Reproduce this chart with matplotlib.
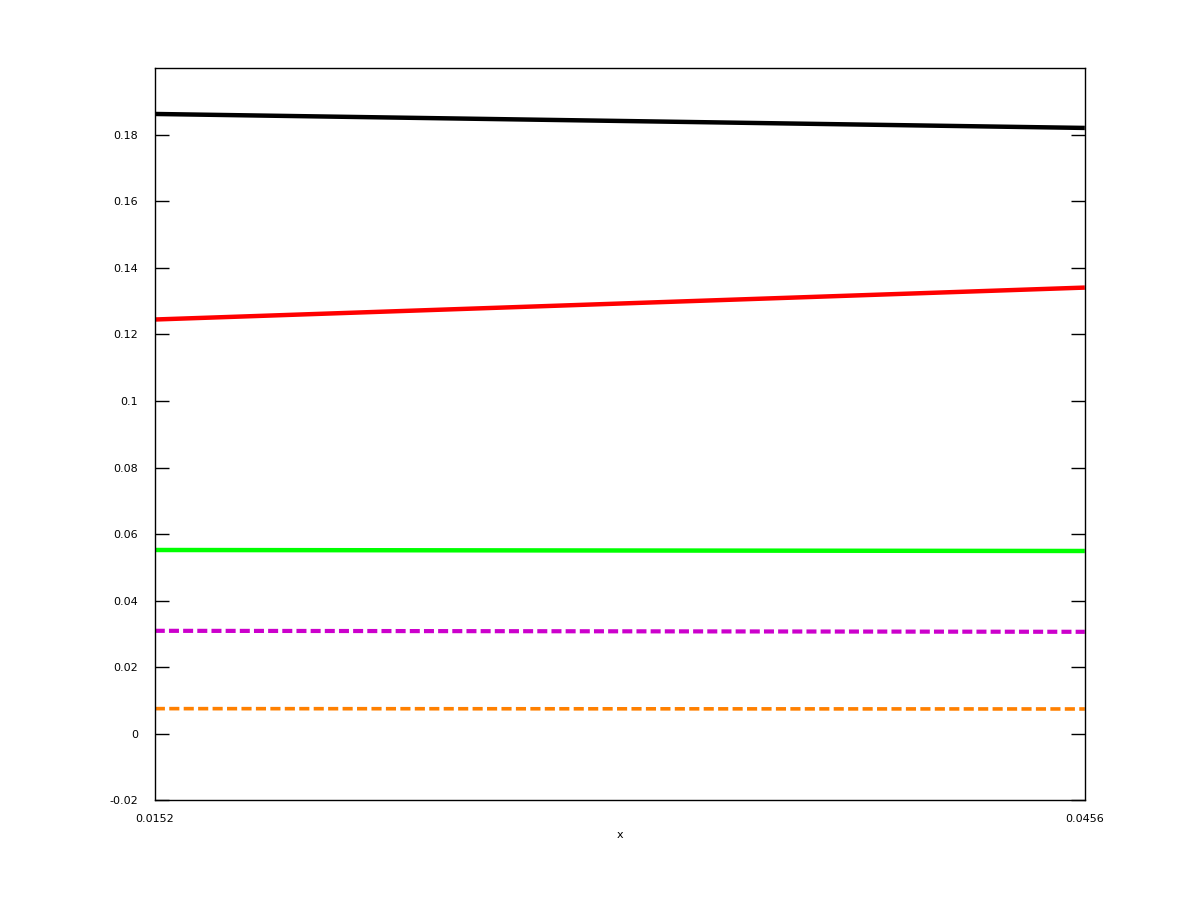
import matplotlib
matplotlib.use('Agg')
import matplotlib.pyplot as plt
import numpy as np

x = [0.0152, 0.0456]
black = [0.1863, 0.1821]
red = [0.1245, 0.1341]
green = [0.0552, 0.0549]
magenta = [0.0309, 0.0306]
orange = [0.0075, 0.0074]

yticks = [-0.02, 0, 0.02, 0.04, 0.06, 0.08, 0.1, 0.12, 0.14, 0.16, 0.18]
yticklabels = ['-0.02', '0', '0.02', '0.04', '0.06', '0.08', '0.1', '0.12', '0.14', '0.16', '0.18']

fig = plt.figure(figsize=(12, 9), dpi=100)
ax = fig.add_axes([0.129, 0.111, 0.775, 0.813])

ax.plot(x, black, color='black', lw=3.2, solid_capstyle='butt')
ax.plot(x, red, color='#ff0000', lw=3.2, solid_capstyle='butt')
ax.plot(x, green, color='#00ff00', lw=3.2, solid_capstyle='butt')
ax.plot(x, magenta, color='#cc00cc', lw=3.0, linestyle=(0, (2.4, 1.0)), dash_capstyle='butt')
ax.plot(x, orange, color='#ff8000', lw=2.6, linestyle=(0, (2.8, 1.2)), dash_capstyle='butt')

ax.set_xlim(x[0], x[1])
ax.set_ylim(-0.02, 0.2)
ax.set_xticks(x)
ax.set_xticklabels(['0.0152', '0.0456'])
ax.set_yticks(yticks)
ax.set_yticklabels(yticklabels)
ax.tick_params(axis='y', direction='in', length=10, right=True, labelsize=8, width=1, pad=12)
ax.tick_params(axis='x', direction='in', length=0, labelsize=8, pad=10)
ax.set_xlabel('x', fontsize=8, labelpad=4)
for s in ax.spines.values():
    s.set_linewidth(1)

fig.savefig('out.png', dpi=100)
